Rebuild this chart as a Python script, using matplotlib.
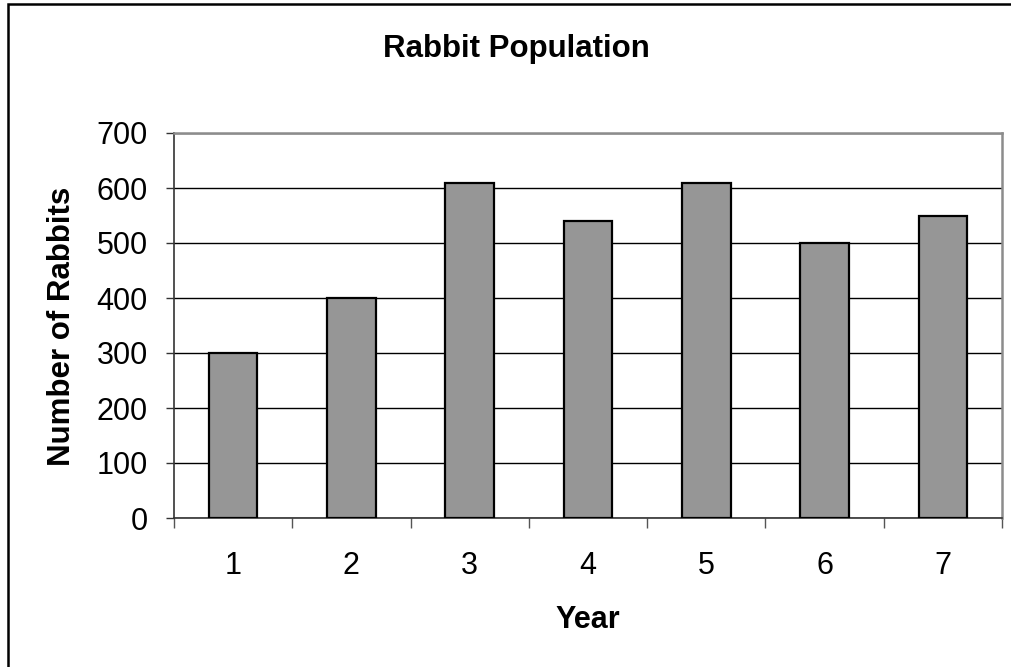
import matplotlib
matplotlib.use("Agg")
import matplotlib.pyplot as plt
from matplotlib.patches import Rectangle

years = [1, 2, 3, 4, 5, 6, 7]
rabbits = [300, 400, 610, 540, 610, 500, 550]
yticks = [0, 100, 200, 300, 400, 500, 600, 700]

BAR = "#969696"
plt.rcParams.update({"font.family": ["Liberation Sans", "DejaVu Sans"]})

W, H = 1011, 667
fig = plt.figure(figsize=(W / 100, H / 100), dpi=100)
ax = fig.add_axes([174 / W, 1 - 518 / H, (1002 - 174) / W, (518 - 133) / H])

ax.bar(years, rabbits, width=0.41, color=BAR, edgecolor="black", linewidth=1.6, zorder=3)

ax.set_xlim(0.5, 7.5)
ax.set_ylim(0, 700)
ax.set_yticks(yticks)
ax.set_xticks(years)
ax.set_xticks([y + 0.5 for y in [0] + years], minor=True)
ax.tick_params(axis="x", which="major", length=0, pad=24, labelsize=22)
ax.tick_params(axis="x", which="minor", length=7, width=1, color="#555555", direction="out")
ax.tick_params(axis="y", length=6, width=1, color="#333333", direction="out", pad=13, labelsize=22)

ax.yaxis.grid(True, color="black", lw=1)
ax.set_axisbelow(True)
for sp in ("left", "bottom"):
    ax.spines[sp].set_color("#333333")
    ax.spines[sp].set_linewidth(1.2)
for sp in ("top", "right"):
    ax.spines[sp].set_color("#8c8c8c")
    ax.spines[sp].set_linewidth(1.8)

fig.text(516 / W, 1 - 57 / H, "Rabbit Population", ha="center", va="baseline",
         fontsize=22.5, fontweight="bold")
fig.text(588 / W, 1 - 628 / H, "Year", ha="center", va="baseline",
         fontsize=22, fontweight="bold")
fig.text(70 / W, 1 - 326 / H, "Number of Rabbits", ha="center", va="baseline",
         rotation=90, rotation_mode="anchor", fontsize=22.5, fontweight="bold")

# outer chart border (runs off the right and bottom edges)
fig.patches.append(Rectangle((8 / W, -0.05), 1.2, 1.05 - 4 / H, transform=fig.transFigure,
                             fill=False, ec="black", lw=1.8, clip_on=False))

fig.savefig("out.png", dpi=100, facecolor="white")
